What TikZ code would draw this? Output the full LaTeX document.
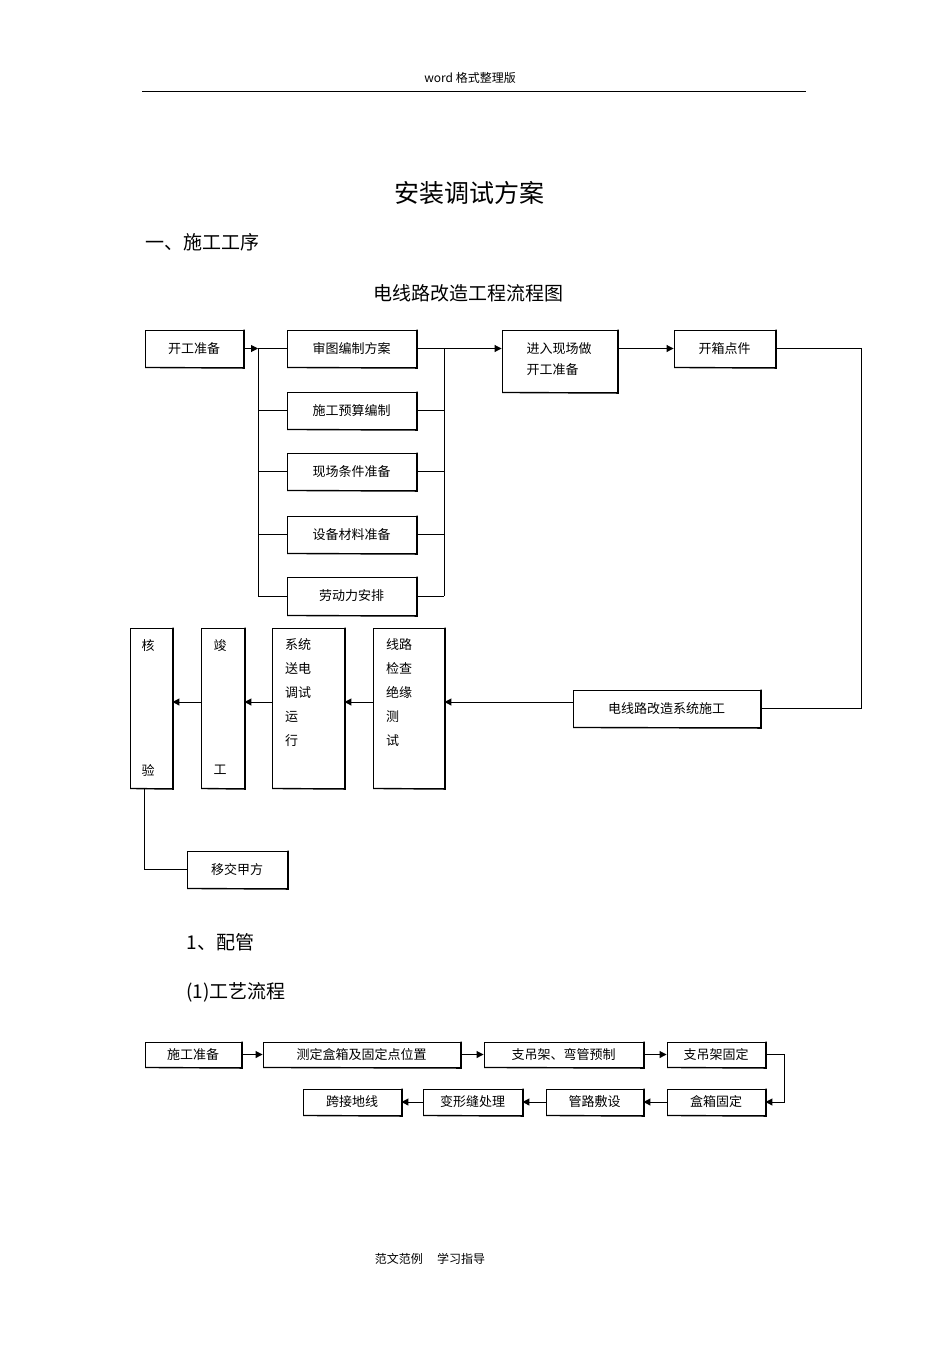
\documentclass[tikz,border=0pt]{standalone}
\usepackage{fontspec}
\setmainfont{Noto Sans CJK SC}
\usetikzlibrary{arrows.meta}
\newcommand{\bx}[6]{\node[box,minimum width=#4-#2,minimum height=#5-#3] (#1) at ({(#2+#4)/2},{(#3+#5)/2}) {#6};
\draw[line width=1.4pt] ([xshift=0.6pt]#1.south west) -- ([xshift=0.6pt,yshift=-0.6pt]#1.south east) -- ([xshift=0.6pt]#1.north east);}
\begin{document}
\begin{tikzpicture}[x=1pt,y=-1pt,
  box/.style={draw,line width=0.9pt,inner sep=0pt,font=\fontsize{13}{15}\selectfont},
  ln/.style={line width=1pt},
  ar/.style={ln,-{Triangle[length=7pt,width=7pt]}},
  lab/.style={font=\fontsize{13}{15}\selectfont,inner sep=0pt}]
\useasboundingbox (0,0) rectangle (950,1345);
\node[font=\fontsize{12}{14}\selectfont] (hd) at (470,78) {word 格式整理版};
\draw[line width=0.6pt] (142,91) -- (806,91);
\node[font=\fontsize{25}{28}\selectfont] (tt) at (469,193) {安装调试方案};
\node[font=\fontsize{19}{22}\selectfont,anchor=west] (s1) at (142,242) {一、施工工序};
\node[font=\fontsize{19}{22}\selectfont] (ft) at (468,293) {电线路改造工程流程图};
\bx{a}{145}{330}{243}{367}{开工准备}
\bx{b1}{287}{330}{416}{367}{审图编制方案}
\bx{b2}{287}{392}{416}{429}{施工预算编制}
\bx{b3}{287}{453}{416}{490}{现场条件准备}
\bx{b4}{287}{516}{416}{553}{设备材料准备}
\bx{b5}{287}{577}{416}{615}{劳动力安排}
\bx{c}{502}{330}{617}{392}{}
\node[lab,align=left] (ct) at (559,359) {进入现场做\\[6pt]开工准备};
\bx{d}{674}{330}{775}{367}{开箱点件}
\bx{e}{573}{690}{760}{727}{电线路改造系统施工}
\bx{f}{373}{628}{444}{788}{}
\bx{g}{272}{628}{344}{788}{}
\bx{h}{201}{628}{244}{788}{}
\bx{k}{130}{628}{172}{788}{}
\bx{m}{187}{851}{287}{888}{移交甲方}
\node[lab,align=left,anchor=north west] (ft1) at (386,638) {线路\\[9pt]检查\\[9pt]绝缘\\[9pt]测\\[9pt]试};
\node[lab,align=left,anchor=north west] (gt1) at (285,638) {系统\\[9pt]送电\\[9pt]调试\\[9pt]运\\[9pt]行};
\node[lab] (h1) at (220,646) {竣};
\node[lab] (h2) at (220,770) {工};
\node[lab] (k1) at (148,646) {核};
\node[lab] (k2) at (148,770) {验};
\coordinate (L1) at (258,348.5); \coordinate (L5) at (258,596);
\coordinate (R1) at (444,348.5); \coordinate (R5) at (444,596);
\draw[ar] (a.east) -- (L1);
\draw[ln] (L1) -- (L5);
\foreach \n in {b1,b2,b3,b4,b5}{\draw[ln] (L1 |- \n.west) -- (\n.west); \draw[ln] (\n.east) -- (R1 |- \n.east);}
\draw[ln] (R1) -- (R5);
\draw[ar] (R1) -- (c.west |- R1);
\draw[ar] (c.east |- d.west) -- (d.west);
\coordinate (q1) at (861,348.5); \coordinate (q2) at (861,708.5);
\draw[ln] (d.east) -- (q1) -- (q2) -- (e.east);
\coordinate (q4) at (444,702);
\draw[ar] (e.west |- q4) -- (f.east |- q4);
\draw[ar] (f.west |- q4) -- (g.east |- q4);
\draw[ar] (g.west |- q4) -- (h.east |- q4);
\draw[ar] (h.west |- q4) -- (k.east |- q4);
\coordinate (q3) at (144,869.5);
\draw[ln] (k.south -| q3) -- (q3) -- (m.west);
\node[font=\fontsize{19}{22}\selectfont,anchor=west] (s2) at (183,942) {1、配管};
\node[font=\fontsize{19}{22}\selectfont,anchor=west] (s3) at (183,992) {(1)工艺流程};
\bx{p1}{145}{1042}{241}{1067}{施工准备}
\bx{p2}{263}{1042}{460}{1067}{测定盒箱及固定点位置}
\bx{p3}{484}{1042}{643}{1067}{支吊架、弯管预制}
\bx{p4}{667}{1042}{765}{1067}{支吊架固定}
\bx{p5}{667}{1089}{765}{1115}{盒箱固定}
\bx{p6}{546}{1089}{643}{1115}{管路敷设}
\bx{p7}{423}{1089}{522}{1115}{变形缝处理}
\bx{p8}{303}{1089}{401}{1115}{跨接地线}
\draw[ar] (p1) -- (p2); \draw[ar] (p2) -- (p3); \draw[ar] (p3) -- (p4);
\coordinate (r1) at (784,1054.5); \coordinate (r2) at (784,1102);
\draw[ar] (p4.east) -- (r1) -- (r2) -- (p5.east);
\draw[ar] (p5) -- (p6); \draw[ar] (p6) -- (p7); \draw[ar] (p7) -- (p8);
\node[font=\fontsize{12}{14}\selectfont] (fo) at (430,1259) {范文范例\hspace{1.2em}学习指导};
\end{tikzpicture}
\end{document}
